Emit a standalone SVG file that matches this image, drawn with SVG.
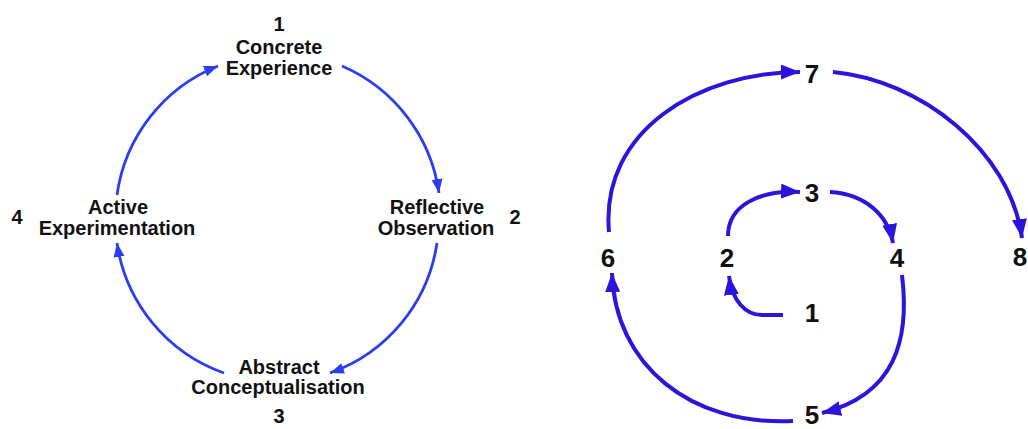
<svg xmlns="http://www.w3.org/2000/svg" width="1028" height="429" viewBox="0 0 1028 429">
  <style>
    .lbl { font-family: "Liberation Sans", Arial, sans-serif; font-weight: bold; font-size: 20px; fill: #111; text-anchor: middle; }
    .num { font-family: "Liberation Sans", Arial, sans-serif; font-weight: bold; font-size: 26px; fill: #111; text-anchor: middle; }
    .cyc { fill: none; stroke: #2a3ef0; stroke-width: 2.8; marker-end: url(#headCycle); }
    .spi { fill: none; stroke: #2b14dc; stroke-width: 4; marker-end: url(#headSpiral); }
  </style>
  <defs>
    <marker id="headCycle" markerUnits="userSpaceOnUse" markerWidth="15" markerHeight="12" refX="14" refY="5.5" orient="auto">
      <path d="M0,0 L14,5.5 L0,11 z" fill="#2a3ef0"/>
    </marker>
    <marker id="headSpiral" markerUnits="userSpaceOnUse" markerWidth="20" markerHeight="16" refX="19" refY="7.5" orient="auto">
      <path d="M0,0 L19,7.5 L0,15 z" fill="#2b14dc"/>
    </marker>
  </defs>
  <rect width="1028" height="429" fill="#fff"/>

  <!-- Learning cycle -->
  <g id="cycle-connectors">
    <path class="cyc" d="M342,66 A163,163 0 0 1 439,193"/>
    <path class="cyc" d="M437,243 A163,163 0 0 1 330,373"/>
    <path class="cyc" d="M224,373 A163,163 0 0 1 117,243"/>
    <path class="cyc" d="M117,195 A163,163 0 0 1 218,66"/>
  </g>
  <g id="concrete-experience">
    <text class="lbl" x="279" y="31">1</text>
    <text class="lbl" x="279" y="54">Concrete</text>
    <text class="lbl" x="279" y="75">Experience</text>
  </g>
  <g id="reflective-observation">
    <text class="lbl" x="437" y="214">Reflective</text>
    <text class="lbl" x="436" y="235">Observation</text>
    <text class="lbl" x="515" y="224">2</text>
  </g>
  <g id="abstract-conceptualisation">
    <text class="lbl" x="279" y="374">Abstract</text>
    <text class="lbl" x="278" y="394">Conceptualisation</text>
    <text class="lbl" x="279" y="423">3</text>
  </g>
  <g id="active-experimentation">
    <text class="lbl" x="17" y="224">4</text>
    <text class="lbl" x="118" y="214">Active</text>
    <text class="lbl" x="117" y="235">Experimentation</text>
  </g>

  <!-- Spiral -->
  <g id="spiral-connectors">
    <path class="spi" d="M783,315 L762,315 C745,315 732,300 729,276"/>
    <path class="spi" d="M728,236 C728,205 760,190 800,192"/>
    <path class="spi" d="M830,192 C865,194 888,215 893,243"/>
    <path class="spi" d="M902,275 C910,340 895,395 822,413"/>
    <path class="spi" d="M793,421 C690,426 615,365 612,273"/>
    <path class="spi" d="M609,232 C600,130 700,72 800,72"/>
    <path class="spi" d="M833,72 C920,80 1010,150 1022,238"/>
  </g>
  <g id="step-1"><text class="num" x="812" y="322">1</text></g>
  <g id="step-2"><text class="num" x="727" y="267">2</text></g>
  <g id="step-3"><text class="num" x="812" y="202">3</text></g>
  <g id="step-4"><text class="num" x="897" y="267">4</text></g>
  <g id="step-5"><text class="num" x="812" y="424">5</text></g>
  <g id="step-6"><text class="num" x="608" y="267">6</text></g>
  <g id="step-7"><text class="num" x="812" y="83">7</text></g>
  <g id="step-8"><text class="num" x="1020" y="266">8</text></g>
</svg>
